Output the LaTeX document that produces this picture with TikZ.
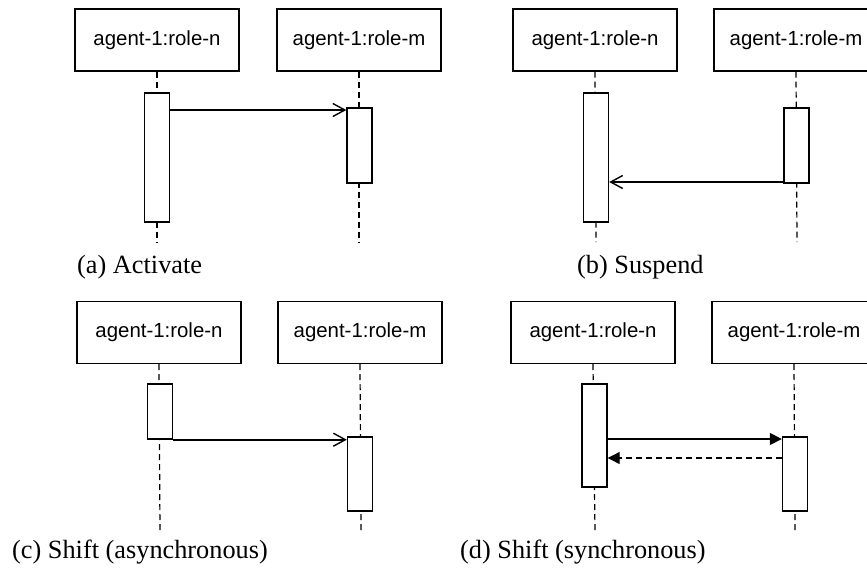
\documentclass[tikz,border=0pt]{standalone}
\usepackage{fontspec}
\setmainfont{Liberation Serif}
\setsansfont{Liberation Sans}
\usetikzlibrary{arrows.meta}
\tikzset{
  agent/.style={draw, line width=1.4pt, minimum width=164pt, minimum height=62pt,
    inner sep=0pt, font=\sffamily\fontsize{20.4}{24}\selectfont},
  act/.style={draw, fill=white, line width=1.4pt, minimum width=25pt, inner sep=0pt},
  lifeline/.style={line width=1.2pt, dash pattern=on 6pt off 4pt},
  msg/.style={line width=1.6pt, -{Straight Barb[length=12pt,width=13pt,line width=1.4pt]}},
  callmsg/.style={line width=1.6pt, -{Triangle[length=12pt,width=12pt]}},
  retmsg/.style={line width=1.2pt, dash pattern=on 6pt off 4pt, -{Triangle[length=12pt,width=12pt]}},
  caption/.style={anchor=base west, inner sep=0pt, font=\fontsize{26.3}{30}\selectfont},
}
\begin{document}
\begin{tikzpicture}[x=1pt, y=-1pt]
\clip (0,0) rectangle (867,568);
\useasboundingbox (0,0) rectangle (867,568);

% (a) Activate
\node[agent] (aN) at (157,40) {agent-1:role-n};
\node[agent] (aM) at (359,40) {agent-1:role-m};
\coordinate (aNend) at (157,242);
\coordinate (aMend) at (359,242);
\draw[lifeline] (aN.south) -- (aNend);
\draw[lifeline] (aM.south) -- (aMend);
\node[act, minimum height=129pt] (aNa) at (157,157.5) {};
\node[act, minimum height=75pt] (aMa) at (359.5,145.5) {};
\draw[msg] (aNa.east |- 0,110) -- (aMa.west |- 0,110);
\node[caption] (aCap) at (77,273) {(a) Activate};

% (b) Suspend
\node[agent] (bN) at (595,40) {agent-1:role-n};
\node[agent] (bM) at (796,40) {agent-1:role-m};
\coordinate (bNend) at (596,242);
\coordinate (bMend) at (797,242);
\draw[lifeline] (bN.south) -- (bNend);
\draw[lifeline] (bM.south) -- (bMend);
\node[act, minimum height=129pt] (bNa) at (596,157.5) {};
\node[act, minimum height=75pt] (bMa) at (796.5,145.5) {};
\draw[msg] (bMa.west |- 0,182) -- (bNa.east |- 0,182);
\node[caption] (bCap) at (577,273) {(b) Suspend};

% (c) Shift (asynchronous)
\node[agent] (cN) at (159,332.5) {agent-1:role-n};
\node[agent] (cM) at (360,332.5) {agent-1:role-m};
\coordinate (cNend) at (160,532);
\coordinate (cMend) at (361,532);
\draw[lifeline] (cN.south) -- (cNend);
\draw[lifeline] (cM.south) -- (cMend);
\node[act, minimum height=55pt] (cNa) at (160,411.5) {};
\node[act, minimum height=74pt] (cMa) at (360,474) {};
\draw[msg] (cNa.south east) -- (cMa.west |- cNa.south east);
\node[caption] (cCap) at (12,558) {(c) Shift (asynchronous)};

% (d) Shift (synchronous)
\node[agent] (dN) at (593,332.5) {agent-1:role-n};
\node[agent] (dM) at (794,332.5) {agent-1:role-m};
\coordinate (dNend) at (595,532);
\coordinate (dMend) at (795,532);
\draw[lifeline] (dN.south) -- (dNend);
\draw[lifeline] (dM.south) -- (dMend);
\node[act, minimum height=103pt] (dNa) at (594.5,435.5) {};
\node[act, minimum height=74pt] (dMa) at (795,474) {};
\draw[callmsg] (dNa.east |- 0,439) -- (dMa.west |- 0,439);
\draw[retmsg] (dMa.west |- 0,458) -- (dNa.east |- 0,458);
\node[caption] (dCap) at (460,558) {(d) Shift (synchronous)};
\end{tikzpicture}
\end{document}
